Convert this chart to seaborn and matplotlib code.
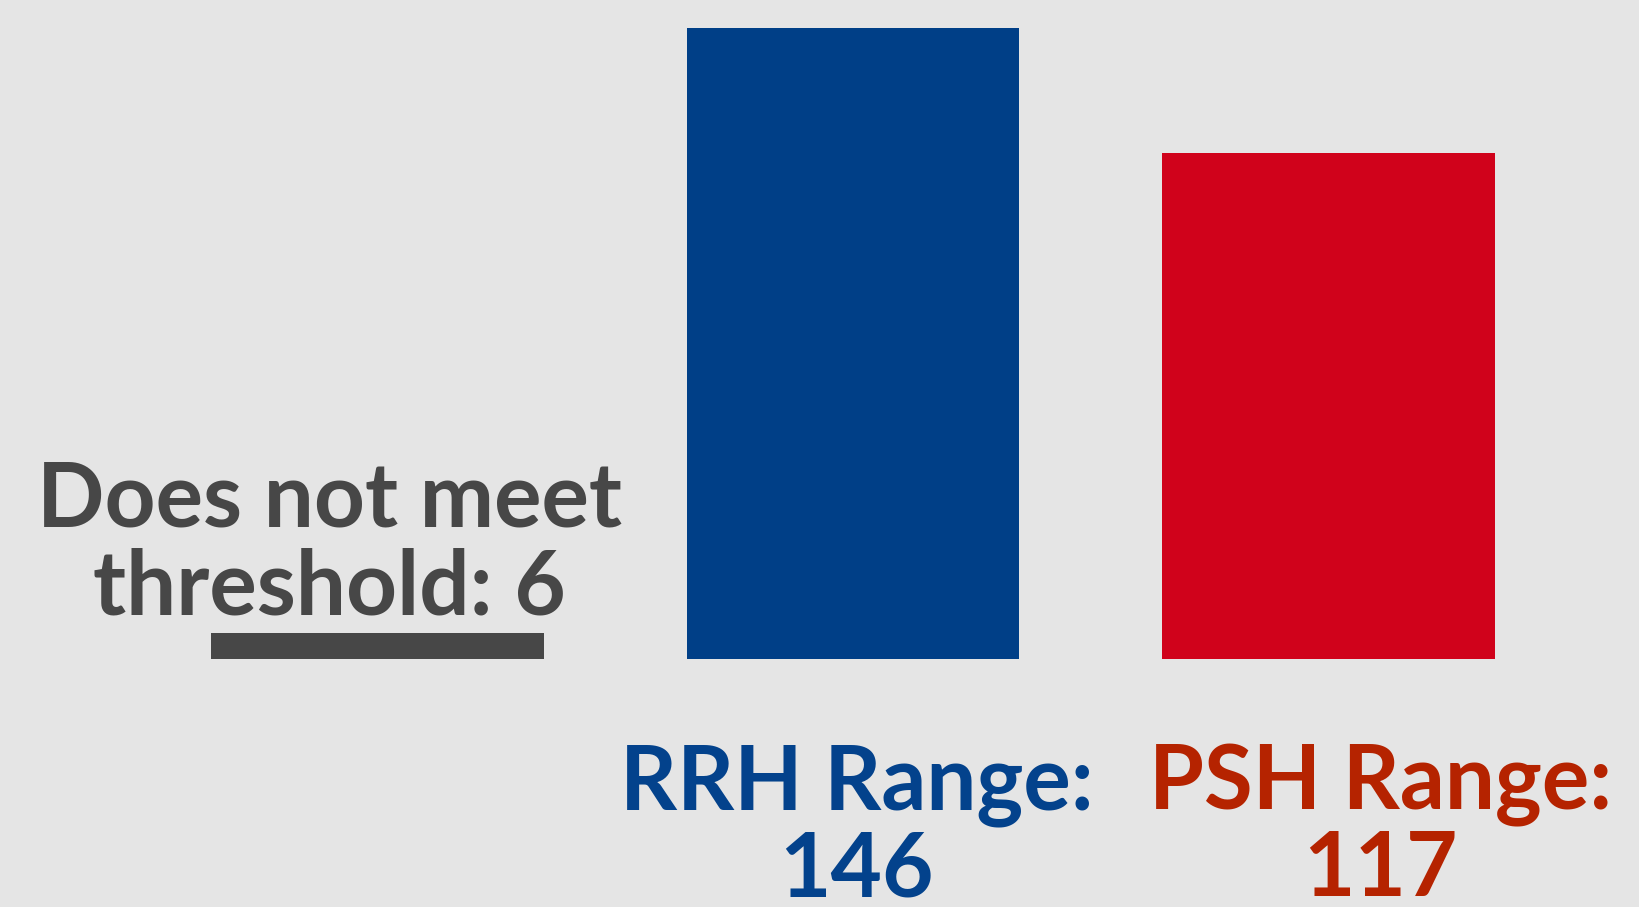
import numpy as np
import pandas as pd
import matplotlib
matplotlib.use('Agg')
import matplotlib.pyplot as plt
import matplotlib.transforms as mtransforms
import seaborn as sns

# 数据
categories = ['Does not meet threshold', 'RRH Range', 'PSH Range']
values = [6, 146, 117]
bar_colors = ['#474747', '#003f87', '#d0021b']
label_colors = ['#474747', '#03428c', '#b52300']

df = pd.DataFrame({'category': categories, 'count': values})

sns.set_style('white')
plt.rcParams['font.family'] = ['Lato', 'DejaVu Sans']

bg = '#e5e5e5'
fig = plt.figure(figsize=(16.39, 9.07), dpi=100, facecolor=bg)
ax = fig.add_axes([0.0853, 1 - 658.5 / 907, 0.8703, 630.5 / 907])
ax.set_facecolor('none')

sns.barplot(data=df, x='category', y='count', hue='category', order=categories,
            palette=dict(zip(categories, bar_colors)), width=0.7, legend=False,
            saturation=1, linewidth=0, ax=ax)
ax.set_xlim(-0.5, 2.5)
ax.set_ylim(0, max(values))
ax.axis('off')

# 文字标签（x 用数据坐标，y 用坐标轴比例）
trans = mtransforms.blended_transform_factory(ax.transData, ax.transAxes)
fs = 64
ax.text(-0.101, 0.210, 'Does not meet', transform=trans, ha='center', va='baseline',
        fontsize=fs, fontweight='bold', color=label_colors[0])
ax.text(-0.101, 0.069, f'threshold: {values[0]}', transform=trans, ha='center', va='baseline',
        fontsize=fs, fontweight='bold', color=label_colors[0])

for x, name, v, c in [(1.008, categories[1], values[1], label_colors[1]),
                      (2.11, categories[2], values[2], label_colors[2])]:
    ax.text(x, -0.240, name + ':', transform=trans, ha='center', va='baseline',
            fontsize=fs, fontweight='bold', color=c, clip_on=False)
    ax.text(x, -0.377, str(v), transform=trans, ha='center', va='baseline',
            fontsize=fs, fontweight='bold', color=c, clip_on=False)

fig.savefig('out.png', dpi=100, facecolor=bg)
